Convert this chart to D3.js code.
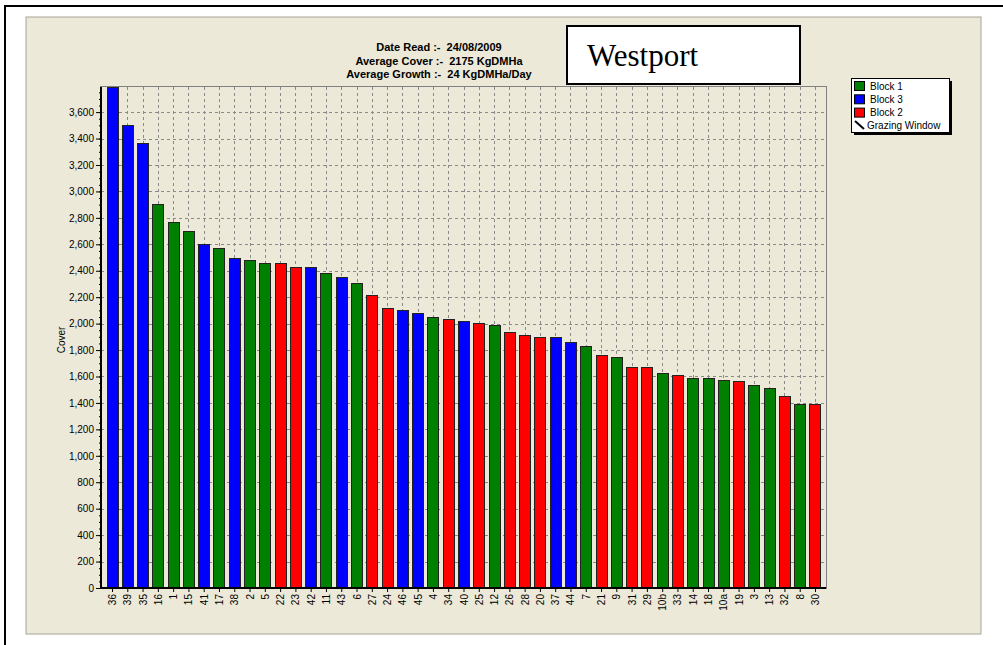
<!DOCTYPE html>
<html>
<head>
<meta charset="utf-8">
<script src="https://cdn.jsdelivr.net/npm/d3@7"></script>
<style>
  body { margin: 0; background: #fff; }
  svg { display: block; font-family: "Liberation Sans", Arial, sans-serif; }
</style>
</head>
<body>
<div id="chart"></div>
<script>
// paddock labels, in the order drawn (sorted by cover)
const paddocks = ["36","39","35","16","1","15","41","17","38","2","5","22","23","42","11","43","6","27","24","46","45","4","34","40","25","12","26","28","20","37","44","7","21","9","31","29","10b","33","14","18","10a","19","3","13","32","8","30"];
const cover = [3790,3500,3370,2905,2770,2700,2600,2570,2500,2485,2455,2455,2425,2425,2385,2350,2305,2220,2120,2105,2080,2050,2035,2020,2005,1990,1940,1915,1900,1900,1860,1830,1760,1745,1675,1675,1630,1615,1585,1585,1575,1565,1535,1510,1450,1395,1395];
const block = ["Block 3","Block 3","Block 3","Block 1","Block 1","Block 1","Block 3","Block 1","Block 3","Block 1","Block 1","Block 2","Block 2","Block 3","Block 1","Block 3","Block 1","Block 2","Block 2","Block 3","Block 3","Block 1","Block 2","Block 3","Block 2","Block 1","Block 2","Block 2","Block 2","Block 3","Block 3","Block 1","Block 2","Block 1","Block 2","Block 2","Block 1","Block 2","Block 1","Block 1","Block 1","Block 2","Block 1","Block 1","Block 2","Block 1","Block 2"];
const legendNames = ["Block 1","Block 3","Block 2"];
const legendColors = ["#008000","#0000ff","#ff0000"];
const infoLines = ["Date Read :-  24/08/2009","Average Cover :-  2175 KgDMHa","Average Growth :-  24 KgDMHa/Day"];

const width = 1003, height = 645;
const plotL = 101, plotR = 826, plotT = 87, plotB = 588;

const svg = d3.select("#chart").append("svg")
  .attr("width", width).attr("height", height);

// outer frame (only top/left visible in the crop)
svg.append("path").attr("d", "M5,645 V6 H1003")
  .attr("fill", "none").attr("stroke", "#000").attr("stroke-width", 2);

// beige panel
svg.append("rect").attr("x", 26).attr("y", 17).attr("width", 955).attr("height", 617)
  .attr("fill", "#ece9d8").attr("stroke", "#a8a496").attr("stroke-width", 1);

const color = d3.scaleOrdinal().domain(legendNames).range(legendColors);

const x = d3.scalePoint().domain(paddocks).range([plotL, plotR]).padding(0.72);
const y = d3.scaleLinear().domain([0, 3790]).range([plotB, plotT]);
const barW = 11;

// grid
const grid = svg.append("g").attr("stroke", "#8a8a8a").attr("stroke-dasharray", "3,3").attr("stroke-width", 1);
grid.selectAll("line.h").data(d3.range(200, 3700, 200)).join("line")
  .attr("x1", plotL).attr("x2", plotR)
  .attr("y1", d => Math.round(y(d)) + 0.5).attr("y2", d => Math.round(y(d)) + 0.5);
grid.selectAll("line.v").data(paddocks).join("line")
  .attr("x1", d => Math.round(x(d)) + 0.5).attr("x2", d => Math.round(x(d)) + 0.5)
  .attr("y1", plotT).attr("y2", plotB);

// plot frame
svg.append("rect").attr("x", plotL - 0.5).attr("y", plotT - 0.5)
  .attr("width", plotR - plotL + 1).attr("height", plotB - plotT + 1)
  .attr("fill", "none").attr("stroke", "#808080");

// bars
svg.append("g").selectAll("rect").data(paddocks).join("rect")
  .attr("x", d => Math.round(x(d) - barW / 2) + 0.5)
  .attr("width", barW)
  .attr("y", (d, i) => Math.round(y(cover[i])) + 0.5)
  .attr("height", (d, i) => Math.round(plotB - y(cover[i])))
  .attr("fill", (d, i) => color(block[i]))
  .attr("stroke", "#222").attr("stroke-width", 1);

// y axis
const yAxis = svg.append("g").attr("transform", `translate(${plotL},0)`)
  .call(d3.axisLeft(y).tickValues(d3.range(0, 3700, 200)).tickFormat(d3.format(",")).tickSize(5).tickPadding(2));
yAxis.select(".domain").remove();
yAxis.selectAll("text").attr("font-size", 10).attr("fill", "#000")
  .attr("font-family", "'Liberation Sans', Arial, sans-serif");
svg.append("g").attr("transform", `translate(${plotL},0)`)
  .call(d3.axisLeft(y).tickValues(d3.range(0, 3790, 50)).tickFormat("").tickSize(2))
  .select(".domain").remove();

// x axis
const xAxis = svg.append("g").attr("transform", `translate(0,${plotB})`)
  .call(d3.axisBottom(x).tickSize(4).tickPadding(2));
xAxis.select(".domain").remove();
xAxis.selectAll("text")
  .attr("font-size", 10).attr("fill", "#000")
  .attr("font-family", "'Liberation Sans', Arial, sans-serif")
  .attr("text-anchor", "end")
  .attr("transform", "translate(0,6) rotate(-90)")
  .attr("x", 0).attr("y", 0).attr("dy", "0.35em");

// thick axis lines
svg.append("line").attr("x1", plotL).attr("x2", plotL).attr("y1", plotT).attr("y2", plotB + 1)
  .attr("stroke", "#000").attr("stroke-width", 2);
svg.append("line").attr("x1", plotL).attr("x2", plotR).attr("y1", plotB).attr("y2", plotB)
  .attr("stroke", "#000").attr("stroke-width", 2);

// y title
svg.append("text").attr("transform", "translate(65,340) rotate(-90)")
  .attr("text-anchor", "middle").attr("font-size", 10).text("Cover");

// info lines
svg.append("g").selectAll("text").data(infoLines).join("text")
  .attr("x", 439).attr("y", (d, i) => 51 + i * 13.5)
  .attr("text-anchor", "middle").attr("font-size", 11).attr("font-weight", "bold")
  .style("white-space", "pre").text(d => d);

// name box
svg.append("rect").attr("x", 567).attr("y", 26).attr("width", 233).attr("height", 58)
  .attr("fill", "#fff").attr("stroke", "#000").attr("stroke-width", 2);
svg.append("text").attr("x", 587).attr("y", 66)
  .attr("font-family", "'Liberation Serif', 'Times New Roman', serif")
  .attr("font-size", 31).text("Westport");

// legend
const lg = svg.append("g");
lg.append("rect").attr("x", 854).attr("y", 81).attr("width", 98).attr("height", 54).attr("fill", "#000");
lg.append("rect").attr("x", 851.5).attr("y", 78.5).attr("width", 98).attr("height", 54)
  .attr("fill", "#fff").attr("stroke", "#000");
const items = lg.selectAll("g.item").data(legendNames).join("g")
  .attr("transform", (d, i) => `translate(0,${86 + i * 13.3})`);
items.append("rect").attr("x", 854.5).attr("y", -4.5).attr("width", 10).attr("height", 9)
  .attr("fill", d => color(d)).attr("stroke", "#000");
items.append("text").attr("x", 870).attr("y", 3.5).attr("font-size", 10).text(d => d);
lg.append("line").attr("x1", 855).attr("y1", 121).attr("x2", 864).attr("y2", 129)
  .attr("stroke", "#000").attr("stroke-width", 2);
lg.append("text").attr("x", 867).attr("y", 129).attr("font-size", 10).text("Grazing Window");
</script>
</body>
</html>
